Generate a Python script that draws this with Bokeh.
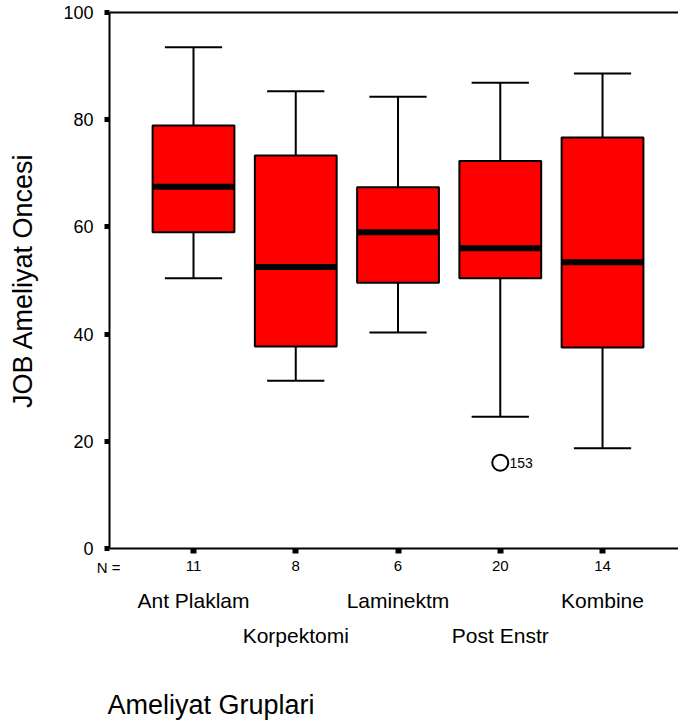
from bokeh.plotting import figure
from bokeh.models import Range1d, FixedTicker, LinearAxis, Label, ColumnDataSource
from bokeh.core.properties import value
from bokeh.embed import file_html
from bokeh.resources import INLINE

# ---- data ----
groups = ["Ant Plaklam", "Korpektomi", "Laminektm", "Post Enstr", "Kombine"]
n_values = [11, 8, 6, 20, 14]
whisker_low = [50.4, 31.3, 40.3, 24.6, 18.7]
q1 = [59.0, 37.7, 49.6, 50.4, 37.5]
median = [67.5, 52.5, 59.0, 56.0, 53.4]
q3 = [78.9, 73.3, 67.4, 72.3, 76.7]
whisker_high = [93.5, 85.3, 84.3, 86.9, 88.6]
outlier_group = ["Post Enstr"]
outlier_value = [16.0]
outlier_id = ["153"]
y_ticks = [0, 20, 40, 60, 80, 100]
x_title = "Ameliyat Gruplari"
y_title = "JOB Ameliyat Oncesi"

FONT = "Liberation Sans"
RED = "#ff0000"

pos = [i + 1 for i in range(len(groups))]
half_box = 0.40
half_cap = 0.28

# layout constants (frame edges in data units)
X0 = -0.8875            # left edge of frame
X1 = 5.743              # right edge of frame
AXIS_X = 0.1785         # where the value axis stands
Y0 = -33.21             # bottom of frame (room for labels below the axis)
Y1 = 102.24             # top of frame (room for the top tick label)

src = ColumnDataSource(dict(
    x=pos,
    left=[p_ - half_box for p_ in pos],
    right=[p_ + half_box for p_ in pos],
    cl=[p_ - half_cap for p_ in pos],
    cr=[p_ + half_cap for p_ in pos],
    low=whisker_low, q1=q1, med=median, q3=q3, high=whisker_high,
))

p = figure(width=678, height=726, output_backend="svg", toolbar_location=None,
           x_range=Range1d(X0, X1), y_range=Range1d(Y0, Y1),
           min_border_left=0, min_border_top=0, min_border_right=0,
           min_border_bottom=0, x_axis_location=None, y_axis_location=None)
p.outline_line_color = None
p.xgrid.visible = False
p.ygrid.visible = False
p.background_fill_color = "white"
p.border_fill_color = "white"

# y axis (value axis)
yax = LinearAxis(ticker=FixedTicker(ticks=y_ticks), fixed_location=AXIS_X, bounds=(0, 100))
yax.axis_line_width = 2
yax.axis_line_color = "black"
yax.major_tick_line_width = 5
yax.major_tick_out = 5
yax.major_tick_in = 0
yax.minor_tick_line_color = None
yax.major_label_text_font = FONT
yax.major_label_text_font_size = "18px"
yax.major_label_text_color = "black"
yax.major_label_standoff = 11
yax.axis_label = y_title
yax.axis_label_text_font = FONT
yax.axis_label_text_font_size = "27px"
yax.axis_label_text_font_style = "normal"
yax.axis_label_text_color = "black"
yax.axis_label_standoff = 22
p.add_layout(yax, "left")

# x axis (N values)
xax = LinearAxis(ticker=FixedTicker(ticks=pos), fixed_location=0, bounds=(AXIS_X, X1))
xax.major_label_overrides = {pp: str(n) for pp, n in zip(pos, n_values)}
xax.axis_line_width = 2
xax.axis_line_color = "black"
xax.major_tick_line_width = 6
xax.major_tick_out = 5
xax.major_tick_in = 0
xax.minor_tick_line_color = None
xax.major_label_text_font = FONT
xax.major_label_text_font_size = "15px"
xax.major_label_text_color = "black"
xax.major_label_standoff = 8
p.add_layout(xax, "below")

# top border line
tax = LinearAxis(ticker=FixedTicker(ticks=[]), fixed_location=100, bounds=(AXIS_X, X1))
tax.axis_line_width = 2
tax.axis_line_color = "black"
tax.major_tick_line_color = None
tax.minor_tick_line_color = None
tax.major_label_text_color = None
p.add_layout(tax, "above")

# whiskers
p.segment(x0="x", y0="q3", x1="x", y1="high", source=src, line_color="black", line_width=2)
p.segment(x0="x", y0="q1", x1="x", y1="low", source=src, line_color="black", line_width=2)
p.segment(x0="cl", y0="high", x1="cr", y1="high", source=src, line_color="black", line_width=2)
p.segment(x0="cl", y0="low", x1="cr", y1="low", source=src, line_color="black", line_width=2)
# boxes
p.quad(left="left", right="right", bottom="q1", top="q3", source=src,
       fill_color=RED, line_color="black", line_width=2)
# medians
p.segment(x0="left", y0="med", x1="right", y1="med", source=src,
          line_color="black", line_width=6, line_cap="butt")

# outliers
ox = [pos[groups.index(g)] for g in outlier_group]
p.scatter(x=ox, y=outlier_value, marker="circle", size=16, fill_color=None,
          line_color="black", line_width=2)
p.text(x=[xx + 0.09 for xx in ox], y=outlier_value, text=outlier_id,
       text_font=value(FONT), text_font_size="14px", text_baseline="middle",
       text_align="left", text_color="black")

# "N =" label
p.add_layout(Label(x=0.286, y=-3.6, text="N =", text_font=FONT, text_font_size="15px",
                   text_baseline="middle", text_align="right", text_color="black"))

# category labels, two staggered rows
row_y = [-9.7 if i % 2 == 0 else -16.2 for i in range(len(groups))]
p.text(x=pos, y=row_y, text=groups, text_font=value(FONT), text_font_size="21px",
       text_baseline="middle", text_align="center", text_color="black")

# x title
p.add_layout(Label(x=0.159, y=-29.2, text=x_title, text_font=FONT, text_font_size="27px",
                   text_baseline="middle", text_align="left", text_color="black"))

open("out.html", "w").write(file_html(p, INLINE))
